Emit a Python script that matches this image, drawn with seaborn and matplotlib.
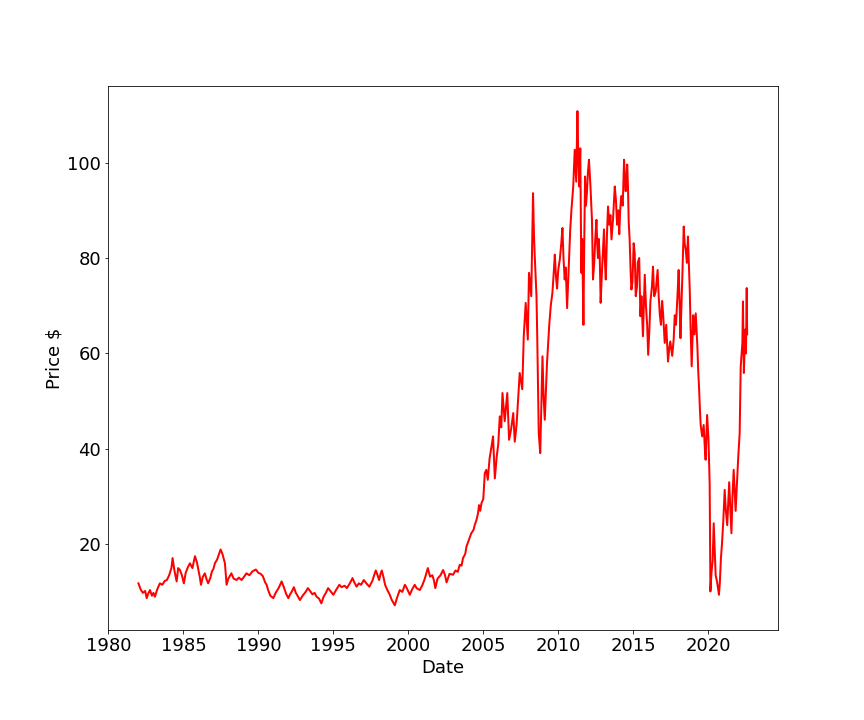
import numpy as np
import pandas as pd
import matplotlib
matplotlib.use("Agg")
import matplotlib.pyplot as plt
import seaborn as sns

# ---------------------- data ----------------------
# 1982 - 2009: decimal year / price
years_early = [
    1982.00, 1982.15, 1982.30, 1982.45, 1982.55, 1982.65, 1982.77, 1982.90, 1983.00, 1983.10,
    1983.25, 1983.43, 1983.60, 1983.75, 1983.90, 1984.05, 1984.20, 1984.28, 1984.40, 1984.55,
    1984.65, 1984.77, 1984.90, 1985.03, 1985.15, 1985.30, 1985.43, 1985.60, 1985.77, 1985.90,
    1986.00, 1986.10, 1986.17, 1986.30, 1986.43, 1986.55, 1986.65, 1986.80, 1986.90, 1987.00,
    1987.10, 1987.25, 1987.40, 1987.48, 1987.60, 1987.77, 1987.83, 1987.88, 1988.00, 1988.20,
    1988.35, 1988.55, 1988.70, 1988.88, 1989.05, 1989.20, 1989.40, 1989.60, 1989.83, 1990.00,
    1990.15, 1990.30, 1990.45, 1990.55, 1990.65, 1990.80, 1991.00, 1991.15, 1991.35, 1991.55,
    1991.70, 1991.85, 1992.00, 1992.10, 1992.25, 1992.37, 1992.50, 1992.65, 1992.77, 1992.95,
    1993.15, 1993.30, 1993.45, 1993.60, 1993.75, 1993.88, 1994.05, 1994.20, 1994.35, 1994.50,
    1994.65, 1994.80, 1995.00, 1995.20, 1995.40, 1995.55, 1995.75, 1995.90, 1996.10, 1996.28,
    1996.40, 1996.55, 1996.70, 1996.85, 1997.03, 1997.20, 1997.40, 1997.60, 1997.75, 1997.83,
    1997.95, 1998.05, 1998.15, 1998.23, 1998.35, 1998.45, 1998.60, 1998.75, 1998.90, 1999.10,
    1999.25, 1999.43, 1999.60, 1999.77, 1999.90, 2000.10, 2000.25, 2000.43, 2000.55, 2000.77,
    2000.95, 2001.10, 2001.30, 2001.45, 2001.60, 2001.70, 2001.80, 2001.95, 2002.15, 2002.32,
    2002.45, 2002.55, 2002.75, 2002.98, 2003.15, 2003.30, 2003.43, 2003.55, 2003.65, 2003.80,
    2003.88, 2004.05, 2004.20, 2004.35, 2004.43, 2004.55, 2004.65, 2004.72, 2004.80, 2004.88,
    2005.00, 2005.10, 2005.20, 2005.30, 2005.42, 2005.55, 2005.65, 2005.77, 2005.90, 2006.00,
    2006.10, 2006.20, 2006.28, 2006.43, 2006.60, 2006.72, 2006.85, 2007.00, 2007.10, 2007.22,
    2007.32, 2007.43, 2007.60, 2007.70, 2007.83, 2007.97, 2008.05, 2008.20, 2008.32, 2008.38,
    2008.43, 2008.55, 2008.60, 2008.70, 2008.80, 2008.88, 2008.95, 2009.02, 2009.10, 2009.25,
]
price_early = [
    11.8, 10.5, 9.8, 10.2, 8.7, 9.6, 10.4, 9.2, 9.8, 9.0,
    10.5, 11.8, 11.5, 12.3, 12.5, 13.5, 15.0, 17.1, 14.5, 12.2,
    15.0, 14.6, 13.5, 11.8, 14.0, 15.2, 16.0, 15.0, 17.5, 16.2,
    14.6, 13.0, 11.5, 13.2, 13.9, 12.6, 11.8, 13.0, 14.3, 14.8,
    16.0, 16.8, 18.2, 18.9, 18.0, 16.0, 13.5, 11.5, 12.8, 13.9,
    12.8, 12.5, 13.0, 12.5, 13.2, 13.9, 13.5, 14.3, 14.7, 14.0,
    13.8, 13.3, 12.0, 11.5, 10.4, 9.2, 8.7, 9.8, 10.8, 12.2,
    11.0, 9.6, 8.7, 9.4, 10.2, 11.0, 9.8, 9.0, 8.3, 9.2,
    10.0, 10.8, 10.2, 9.5, 9.8, 9.0, 8.6, 7.6, 9.0, 9.8,
    10.8, 10.2, 9.4, 10.5, 11.5, 11.0, 11.3, 10.8, 11.8, 12.9,
    12.0, 11.1, 11.8, 11.5, 12.5, 11.8, 11.1, 12.3, 13.8, 14.5,
    13.5, 12.5, 13.8, 14.5, 13.0, 11.5, 10.4, 9.5, 8.3, 7.2,
    8.8, 10.4, 10.0, 11.5, 10.8, 9.4, 10.5, 11.5, 10.8, 10.4,
    11.5, 12.8, 15.0, 13.2, 13.5, 12.5, 10.8, 12.8, 13.5, 14.6,
    13.5, 12.0, 13.8, 13.6, 14.5, 14.2, 15.7, 15.5, 17.1, 18.0,
    19.5, 21.0, 22.3, 23.0, 24.0, 25.1, 26.5, 28.2, 27.0, 28.6,
    29.5, 34.9, 35.6, 33.5, 38.0, 40.5, 42.6, 33.8, 38.5, 41.0,
    46.8, 44.5, 51.7, 45.8, 51.7, 41.9, 44.0, 47.5, 41.5, 45.0,
    50.3, 55.9, 52.5, 63.6, 70.6, 62.9, 76.9, 72.0, 93.6, 85.0,
    80.7, 72.0, 63.6, 43.3, 39.1, 50.0, 59.4, 51.0, 46.1, 58.0,
]

# 2009 - 2019: the volatile plateau
years_mid = [
    2009.40, 2009.50, 2009.61, 2009.70, 2009.77, 2009.85, 2009.92, 2010.00, 2010.10, 2010.20,
    2010.28, 2010.35, 2010.43, 2010.50, 2010.59, 2010.66, 2010.73, 2010.80, 2010.88, 2010.95,
    2011.00, 2011.10, 2011.20, 2011.28, 2011.34, 2011.40, 2011.47, 2011.50, 2011.54, 2011.60,
    2011.68, 2011.73, 2011.79, 2011.85, 2011.92, 2011.98, 2012.05, 2012.15, 2012.25, 2012.32,
    2012.40, 2012.47, 2012.55, 2012.60, 2012.65, 2012.70, 2012.77, 2012.83, 2012.90, 2013.00,
    2013.05, 2013.10, 2013.17, 2013.25, 2013.32, 2013.40, 2013.48, 2013.55, 2013.65, 2013.77,
    2013.85, 2013.92, 2014.00, 2014.07, 2014.13, 2014.20, 2014.30, 2014.39, 2014.45, 2014.50,
    2014.60, 2014.65, 2014.70, 2014.76, 2014.83, 2014.88, 2014.95, 2015.03, 2015.10, 2015.17,
    2015.25, 2015.30, 2015.40, 2015.48, 2015.55, 2015.65, 2015.77, 2015.85, 2015.93, 2016.00,
    2016.08, 2016.15, 2016.25, 2016.32, 2016.40, 2016.50, 2016.63, 2016.70, 2016.78, 2016.85,
    2016.93, 2017.00, 2017.10, 2017.20, 2017.32, 2017.40, 2017.47, 2017.60, 2017.70, 2017.77,
    2017.85, 2017.95, 2018.03, 2018.10, 2018.15, 2018.22, 2018.28, 2018.37, 2018.43, 2018.50,
    2018.58, 2018.65, 2018.72, 2018.77, 2018.83, 2018.90, 2019.00, 2019.08, 2019.17, 2019.28,
    2019.34, 2019.39, 2019.45,
]
price_mid = [
    66.0, 70.0, 72.7, 77.0, 80.7, 76.0, 73.6, 77.5, 79.6, 83.0,
    86.3, 80.0, 75.5, 78.0, 69.5, 75.0, 80.5, 86.0, 90.1, 93.0,
    95.0, 102.7, 96.0, 110.8, 101.0, 95.0, 103.0, 92.0, 76.9, 84.0,
    66.0, 82.0, 97.1, 91.0, 94.0, 98.0, 100.6, 95.0, 88.0, 75.5,
    79.0, 84.0, 88.0, 83.0, 80.0, 84.0, 80.0, 70.6, 76.0, 83.0,
    86.0, 80.0, 75.5, 85.0, 90.8, 87.0, 89.0, 83.9, 88.0, 95.0,
    92.0, 87.0, 90.0, 85.0, 90.0, 93.0, 91.0, 100.6, 96.0, 94.0,
    99.6, 95.0, 87.5, 84.0, 76.9, 73.4, 75.0, 83.1, 81.0, 72.0,
    74.0, 79.0, 80.0, 67.8, 72.0, 63.6, 76.5, 70.0, 66.0, 59.7,
    65.0, 71.0, 74.0, 78.2, 72.0, 73.0, 77.5, 72.0, 68.0, 66.0,
    71.0, 68.0, 62.2, 66.0, 58.3, 61.0, 62.5, 59.5, 63.0, 68.0,
    66.0, 72.0, 77.5, 70.0, 63.2, 70.0, 76.5, 86.6, 83.0, 81.8,
    79.0, 84.5, 78.0, 73.4, 65.0, 57.3, 68.0, 64.0, 68.4, 61.5,
    56.0, 53.0, 48.2,
]

# 2019 - 2022: slide, crash and rebound
years_late = [
    2019.50, 2019.60, 2019.70, 2019.78, 2019.83, 2019.93, 2020.02, 2020.10, 2020.15, 2020.22,
    2020.30, 2020.37, 2020.45, 2020.50, 2020.60, 2020.72, 2020.78, 2020.85, 2020.92, 2021.00,
    2021.10, 2021.18, 2021.27, 2021.40, 2021.47, 2021.55, 2021.62, 2021.70, 2021.83, 2021.92,
    2022.00, 2022.10, 2022.17, 2022.28, 2022.32, 2022.38, 2022.47, 2022.52, 2022.57, 2022.60,
]
price_late = [
    45.0, 42.6, 45.0, 40.0, 37.7, 47.1, 42.0, 32.8, 10.1, 14.0,
    16.6, 24.4, 18.0, 13.5, 12.0, 9.4, 12.0, 17.0, 20.0, 24.4,
    31.4, 27.0, 24.0, 33.0, 28.0, 22.3, 30.0, 35.6, 27.0, 33.0,
    38.0, 43.3, 57.3, 62.2, 70.9, 55.9, 65.0, 60.0, 73.7, 64.0,
]

year_pos = years_early + years_mid + years_late
price = price_early + price_mid + price_late
assert len(year_pos) == len(price)


def to_date(y):
    return pd.Timestamp(int(y), 1, 1) + pd.Timedelta(days=(y % 1) * 365.25)


df = pd.DataFrame({"Date": [to_date(y) for y in year_pos], "Price": price})

# ---------------------- plot ----------------------
plt.rcParams["font.size"] = 18
fig, ax = plt.subplots(figsize=(12, 10), dpi=72)
fig.subplots_adjust(bottom=0.125)

sns.lineplot(data=df, x="Date", y="Price", color="red", linewidth=2, ax=ax)
ax.set_xlabel("Date")
ax.set_ylabel("Price $")

fig.savefig("out.png", dpi=72)
